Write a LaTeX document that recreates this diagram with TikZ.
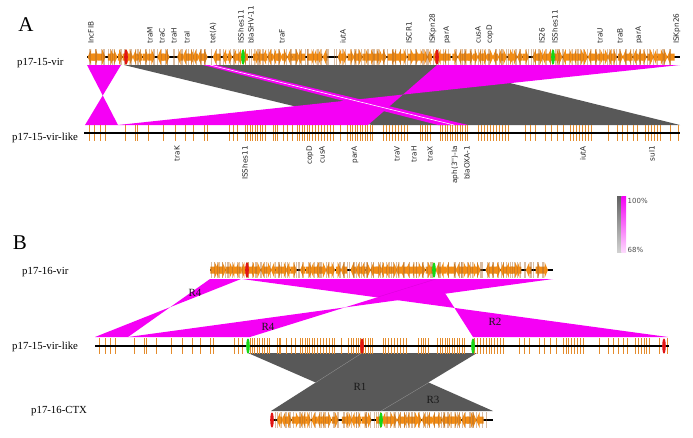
\documentclass[tikz,border=0pt]{standalone}
\usepackage{fontspec}
\setmainfont{Liberation Serif}
\newfontfamily\labelfont{DejaVu Sans}

\definecolor{ribmag}{RGB}{245,0,245}
\definecolor{ribgrey}{RGB}{88,88,88}
\definecolor{geneorange}{RGB}{242,140,20}
\definecolor{genebrown}{RGB}{170,105,45}
\definecolor{tickorange}{RGB}{228,140,45}
\definecolor{cdsgreen}{RGB}{20,215,20}
\definecolor{cdsred}{RGB}{225,20,20}

\tikzset{
  panel/.style={font=\fontsize{21}{24}\selectfont, inner sep=0pt},
  plasmid/.style={font=\fontsize{10.8}{12}\selectfont, anchor=west, inner sep=0pt},
  genelbl/.style={font=\labelfont\fontsize{7.3}{8}\selectfont, text=black!85, rotate=90, inner sep=0pt},
  region/.style={font=\fontsize{11}{12}\selectfont, text=black!90, inner sep=0pt},
  legendtxt/.style={font=\labelfont\fontsize{7}{8}\selectfont, text=black!70, inner sep=0pt, anchor=west},
  backbone/.style={line width=1.2pt, black},
  genetick/.style={draw=tickorange, line width=.8pt},
}

% annotated track with arrow glyphs: x start, x end, y, seed
\newcommand\densetrack[4]{%
  \draw[backbone] (#1,#3) -- (#2,#3);
  \pgfmathsetseed{#4}%
  \pgfmathtruncatemacro\ngenes{(#2-#1-9)/5}%
  \foreach \i in {0,...,\ngenes}{%
    \pgfmathsetmacro\gx{#1+5*\i+rnd}%
    \pgfmathsetmacro\gl{4.5+3.5*rnd}%
    \pgfmathtruncatemacro\gon{rnd<0.88}%
    \pgfmathsetmacro\gd{rnd<0.5 ? 1 : -1}%
    \ifnum\gon=1
      \pgfmathsetmacro\gs{\gd>0 ? \gx : \gx+\gl}%
      \pgfmathsetmacro\gxb{\gs+\gd*(\gl-3.5)}%
      \pgfmathsetmacro\gxt{\gs+\gd*\gl}%
      \fill[geneorange] (\gs,#3-3.5) -- (\gxb,#3-3.5) -- (\gxb,#3-8) -- (\gxt,#3)
        -- (\gxb,#3+8) -- (\gxb,#3+3.5) -- (\gs,#3+3.5) -- cycle;
    \fi
    \draw[genebrown, opacity=.45, line width=.5pt] (\gx+5*rnd,#3-8) -- ++(0,16)
      (\gx+5*rnd,#3-8) -- ++(0,16);
  }}

% tick positions of p17-15-vir-like, on the 84--680 scale of panel A
\def\ticklist{89/106/5.5, 125/125/1, 135/137/2, 148/148/1, 163/163/1, 175/175/1,
  185/185/1, 193/193/1, 204/207/3, 229/237/4, 245/267/2.5, 273/277/2, 283/292/4.5,
  297/312/2.5, 315/333/3, 340/347/7, 350/373/2.5, 383/407/3, 420/430/2.5,
  440/468/2.5, 478/508/3, 525/535/5, 545/563/6, 570/593/3, 608/608/1, 617/627/5,
  633/637/4, 645/660/3, 670/678/8}

% sparse track: x start, x end, y
\newcommand\ticktrack[3]{%
  \pgfmathsetmacro\tr{(#2-#1)/596}%
  \foreach \ta/\tb/\ts in \ticklist {%
    \pgfmathtruncatemacro\tn{(\tb-\ta)/\ts}%
    \foreach \k in {0,...,\tn}{%
      \pgfmathsetmacro\tx{#1+(\ta+\k*\ts-84)*\tr}%
      \path[genetick] (\tx,#3-8) -- (\tx,#3+8);
    }}%
  \draw[backbone] (#1,#3) -- (#2,#3);}

% coloured feature (IS / replicon marks)
\newcommand\cds[3]{\fill[#3] (#1,#2) ellipse (1.8 and 7.5);}

\begin{document}
\begin{tikzpicture}[x=1pt,y=-1pt]
   \useasboundingbox (0,0) rectangle (693,437);
   % Panel letters
   \node[panel] (panA) at (26,25) {A};
   \node[panel] (panB) at (20,243) {B};

   % ---------------- Panel A ----------------
   % Links (grey below magenta)
   \fill[ribgrey] (124,65) -- (437,65) -- (680,125) -- (372,125) -- cycle;
   \fill[ribmag] (87,65) -- (121,65) -- (85,125) -- (118,125) -- cycle;
   \fill[ribmag] (437,65) -- (680,65) -- (118,125) -- (368,125) -- cycle;
   \fill[ribmag] (203,65) -- (216,65) -- (468,125) -- (438,125) -- cycle;
   \draw[white, line width=.6pt] (210,65) -- (454,125);
   % Tracks
   \densetrack{87}{680}{57}{11}
   \cds{126}{57}{cdsred} \cds{437}{57}{cdsred}
   \cds{243}{57}{cdsgreen} \cds{553}{57}{cdsgreen}
   \ticktrack{84}{680}{133}
   \node[plasmid] (virA) at (17,63) {p17-15-vir};
   \node[plasmid] (likeA) at (12,138) {p17-15-vir-like};
   % Gene names
   \foreach \gx/\gname [count=\n] in {91/IncFIB, 150/traM, 162/traC, 174/traH, 187/traI,
       213/tet(A), 241/ISShes11, 251/blaSHV-11, 282/traF, 343/iutA, 409/ISCR1,
       433/ISKpn28, 447/parA, 478/cusA, 490/copD, 542/IS26, 555/ISShes11,
       600/traU, 620/traB, 639/parA, 677/ISKpn26}
     \node[genelbl, anchor=west] (gtop\n) at (\gx,44) {\gname};
   \foreach \gx/\gname [count=\n] in {177/traK, 245/ISShes11, 310/copD, 322/cusA,
       355/parA, 397/traV, 414/traH, 430/traX, 455/aph(3'')-Ia, 467/blaOXA-1,
       583/iutA, 652/sul1}
     \node[genelbl, anchor=east] (gbot\n) at (\gx,146) {\gname};

   % Identity scale
   \shade[top color=black!62, bottom color=black!18] (617,196) rectangle (621.5,252);
   \shade[top color=ribmag, bottom color=ribmag!15] (621.5,196) rectangle (626,252);
   \node[legendtxt] (leg100) at (627.5,201) {100\%};
   \node[legendtxt] (leg68) at (627.5,250) {68\%};

   % ---------------- Panel B ----------------
   % Links
   \fill[ribmag] (210,279) -- (241,279) -- (95,337) -- (128,337) -- cycle;
   \fill[ribmag] (436,279) -- (553,279) -- (128,337) -- (250,337) -- cycle;
   \fill[ribmag] (242,279) -- (436,279) -- (473,337) -- (668,337) -- cycle;
   \draw[ribmag!75!black, line width=.3pt, opacity=.5] (378,297) -- (436,279);
   \fill[ribgrey] (248,353) -- (362,353) -- (493,411) -- (381,411) -- cycle;
   \fill[ribgrey] (362,353) -- (477,353) -- (381,411) -- (271,411) -- cycle;
   \draw[black!40, line width=.3pt] (362,353) -- (315,383) (428,383) -- (381,411);
   % Tracks
   \densetrack{210}{553}{270}{5}
   \cds{247}{270}{cdsred} \cds{434}{270}{cdsgreen}
   \ticktrack{95}{669}{346}
   \cds{248}{346}{cdsgreen} \cds{362}{346}{cdsred}
   \cds{473}{346}{cdsgreen} \cds{664}{346}{cdsred}
   \densetrack{271}{493}{420}{23}
   \cds{272}{420}{cdsred} \cds{381}{420}{cdsgreen}
   \node[plasmid] (virB) at (22,272) {p17-16-vir};
   \node[plasmid] (likeB) at (12,347) {p17-15-vir-like};
   \node[plasmid] (ctxB) at (31,411) {p17-16-CTX};
   % Region names
   \node[region] (r4a) at (195,293) {R4};
   \node[region] (r4b) at (268,327) {R4};
   \node[region] (r2) at (495,322) {R2};
   \node[region] (r1) at (360,387) {R1};
   \node[region] (r3) at (433,400) {R3};
\end{tikzpicture}
\end{document}
